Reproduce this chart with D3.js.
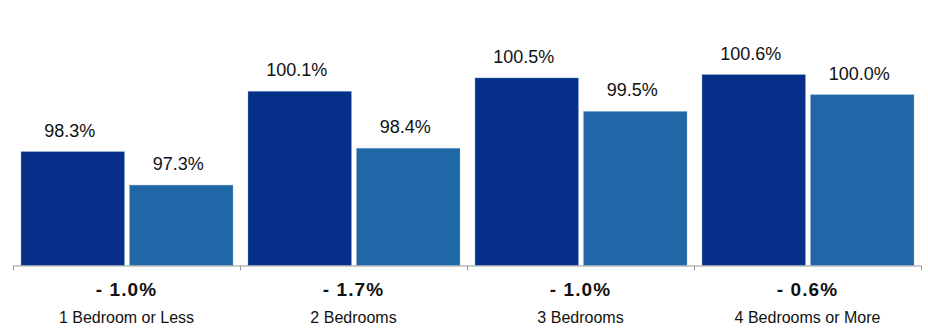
<!DOCTYPE html>
<html>
<head>
<meta charset="utf-8">
<script src="https://cdn.jsdelivr.net/npm/d3@7"></script>
<style>
  html, body { margin: 0; padding: 0; background: #fff; }
  svg { display: block; font-family: "Liberation Sans", Arial, Helvetica, sans-serif; }
</style>
</head>
<body>
<svg id="chart" width="928" height="329"></svg>
<script>
// Bedroom-count categories and the two compared series (percent values)
const categories = ["1 Bedroom or Less", "2 Bedrooms", "3 Bedrooms", "4 Bedrooms or More"];
const seriesKeys = ["earlier", "later"];
const earlierValues = [98.3, 100.1, 100.5, 100.6];
const laterValues = [97.3, 98.4, 99.5, 100.0];
const seriesColors = ["#052f88", "#1f67a6"];

const rows = categories.map((c, i) => ({
  category: c,
  values: [
    { key: seriesKeys[0], value: earlierValues[i] },
    { key: seriesKeys[1], value: laterValues[i] }
  ]
}));

const svg = d3.select("#chart");

const baseY = 265.5;
const x0 = d3.scaleBand().domain(categories).range([13, 921]).paddingInner(0).paddingOuter(0);
const x1 = d3.scaleBand().domain(seriesKeys).range([8, 220]).paddingInner(0.046).paddingOuter(0);
const y = d3.scaleLinear().domain([94.9, 101]).range([baseY, baseY - 6.1 * 33.5]);
const color = d3.scaleOrdinal().domain(seriesKeys).range(seriesColors);

const groups = svg.append("g")
  .selectAll("g")
  .data(rows)
  .join("g")
  .attr("transform", d => `translate(${x0(d.category)},0)`);

// Bars
groups.selectAll("rect")
  .data(d => d.values)
  .join("rect")
  .attr("x", d => x1(d.key))
  .attr("y", d => y(d.value))
  .attr("width", x1.bandwidth())
  .attr("height", d => baseY - y(d.value))
  .attr("fill", d => color(d.key))
  .attr("stroke", "#8fb3de")
  .attr("stroke-opacity", 0.45)
  .attr("stroke-width", 0.8);

// Value labels above bars
groups.selectAll("text.value")
  .data(d => d.values)
  .join("text")
  .attr("class", "value")
  .attr("x", d => x1(d.key) + x1.bandwidth() / 2 - 3)
  .attr("y", d => y(d.value) - 15)
  .attr("text-anchor", "middle")
  .attr("font-size", 18)
  .attr("fill", "#111")
  .text(d => d3.format(".1f")(d.value) + "%");

// Axis line with tick marks at group boundaries
const axis = d3.axisBottom(x0).tickSize(0).tickFormat("");
const axisG = svg.append("g").attr("transform", `translate(0,${baseY})`).call(axis);
axisG.select(".domain").attr("stroke", "#9a9a9a").attr("stroke-width", 1);
const edges = categories.map(c => x0(c)).concat([x0.range()[1]]);
axisG.selectAll("line.edge")
  .data(edges)
  .join("line")
  .attr("class", "edge")
  .attr("x1", d => Math.round(d) + 0.5)
  .attr("x2", d => Math.round(d) + 0.5)
  .attr("y1", 0)
  .attr("y2", 5)
  .attr("stroke", "#9a9a9a");

// Change between the two series, shown bold under each group
const fmtChange = v => (v < 0 ? "- " : "+ ") + d3.format(".1f")(Math.abs(v)) + "%";
groups.append("text")
  .attr("x", x0.bandwidth() / 2)
  .attr("y", 296)
  .attr("text-anchor", "middle")
  .attr("font-size", 19)
  .attr("font-weight", "bold")
  .attr("letter-spacing", "1.1px")
  .attr("fill", "#111")
  .text(d => fmtChange(d.values[1].value - d.values[0].value));

// Category labels
groups.append("text")
  .attr("x", x0.bandwidth() / 2)
  .attr("y", 323)
  .attr("text-anchor", "middle")
  .attr("font-size", 16)
  .attr("fill", "#111")
  .text(d => d.category);
</script>
</body>
</html>
